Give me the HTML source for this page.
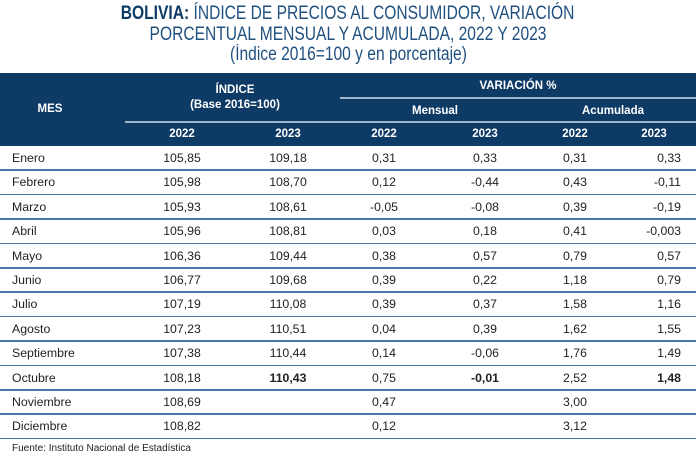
<!DOCTYPE html>
<html><head><meta charset="utf-8"><style>
body{margin:0;width:696px;height:458px;background:#fff;position:relative;overflow:hidden;font-family:"Liberation Sans",sans-serif;}
.t{position:absolute;left:0;width:696px;text-align:center;color:#1f5080;font-size:19px;white-space:nowrap;}
.t span{display:inline-block;transform:scaleX(0.82);transform-origin:center;}
.hdr{position:absolute;left:0;top:73px;width:696px;height:73px;background:#0e3a66;}
.h{position:absolute;color:#fff;font-weight:bold;font-size:11.5px;text-align:center;white-space:nowrap;}
.ln{position:absolute;height:1.5px;background:#9fb6cc;}
.c{position:absolute;font-size:12.3px;color:#222;white-space:nowrap;}
.sep{position:absolute;left:0;width:696px;height:1.5px;background:#4a78a8;}
</style></head><body>
<div class="t" style="top:3px"><span><b style="color:#0e3a66">BOLIVIA:</b> ÍNDICE DE PRECIOS AL CONSUMIDOR, VARIACIÓN</span></div>
<div class="t" style="top:24px"><span>PORCENTUAL MENSUAL Y ACUMULADA, 2022 Y 2023</span></div>
<div class="t" style="top:44px;color:#1f5080"><span>(Índice 2016=100 y en porcentaje)</span></div>
<div class="hdr"></div>
<div class="ln" style="left:125px;top:121px;width:215px"></div>
<div class="ln" style="left:340px;top:97px;width:356px"></div>
<div class="ln" style="left:340px;top:121px;width:356px"></div>
<div class="h" style="left:20px;width:60px;top:103px">MES</div>
<div class="h" style="left:130px;width:210px;top:83px;line-height:15px">ÍNDICE<br>(Base 2016=100)</div>
<div class="h" style="left:340px;width:356px;top:80px">VARIACIÓN %</div>
<div class="h" style="left:340px;width:190px;top:105px">Mensual</div>
<div class="h" style="left:530px;width:166px;top:105px">Acumulada</div>
<div id="yrs"></div>
<div id="rows"></div>
<div class="c" style="left:12px;top:443px;font-size:10px">Fuente: Instituto Nacional de Estadística</div>
<script>
var cx=[182,288,384,485,575];
var y='';
[182,288,384,485,575,654].forEach(function(x,i){y+='<div class="h" style="left:'+(x-30)+'px;width:60px;top:128px">'+(i%2==0?'2022':'2023')+'</div>';});
document.getElementById('yrs').innerHTML=y;
var d=[["Enero","105,85","109,18","0,31","0,33","0,31","0,33"],
["Febrero","105,98","108,70","0,12","-0,44","0,43","-0,11"],
["Marzo","105,93","108,61","-0,05","-0,08","0,39","-0,19"],
["Abril","105,96","108,81","0,03","0,18","0,41","-0,003"],
["Mayo","106,36","109,44","0,38","0,57","0,79","0,57"],
["Junio","106,77","109,68","0,39","0,22","1,18","0,79"],
["Julio","107,19","110,08","0,39","0,37","1,58","1,16"],
["Agosto","107,23","110,51","0,04","0,39","1,62","1,55"],
["Septiembre","107,38","110,44","0,14","-0,06","1,76","1,49"],
["Octubre","108,18","110,43","0,75","-0,01","2,52","1,48"],
["Noviembre","108,69","","0,47","","3,00",""],
["Diciembre","108,82","","0,12","","3,12",""]];
var h='';
d.forEach(function(r,i){var top=146+i*24.4;
h+='<div class="c" style="left:12px;top:'+(top+5)+'px">'+r[0]+'</div>';
for(var j=1;j<=5;j++){var b=(i==9&&(j==2||j==4))?'font-weight:bold;':'';h+='<div class="c" style="'+b+'left:'+(cx[j-1]-40)+'px;width:80px;text-align:center;top:'+(top+5)+'px">'+r[j]+'</div>';}
var b6=i==9?'font-weight:bold;':'';
h+='<div class="c" style="'+b6+'right:15px;text-align:right;top:'+(top+5)+'px">'+r[6]+'</div>';
h+='<div class="sep" style="top:'+(top+23.4)+'px"></div>';});
document.getElementById('rows').innerHTML=h;
</script>
</body></html>
